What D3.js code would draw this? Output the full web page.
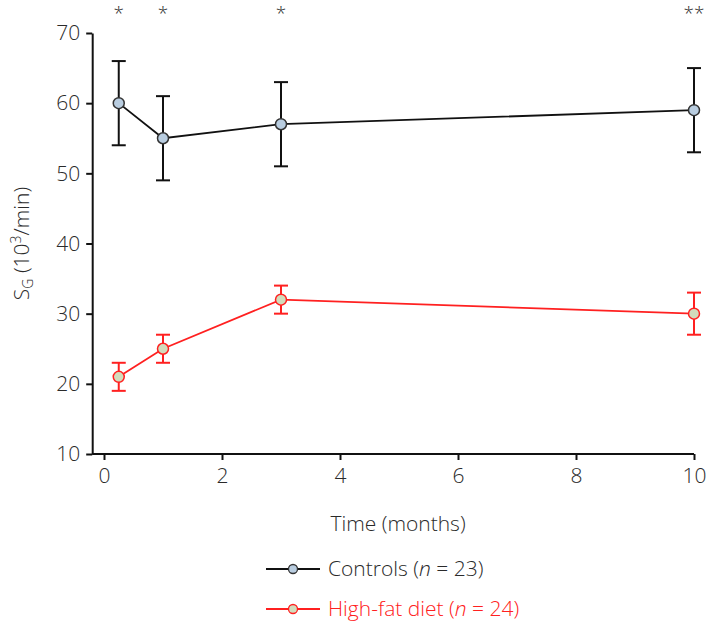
<!DOCTYPE html>
<html>
<head>
<meta charset="utf-8">
<script src="https://cdn.jsdelivr.net/npm/d3@7"></script>
<style>
    body { margin: 0; background: #fff; }
    svg { display: block; font-family: "Open Sans", "Noto Sans", sans-serif; font-weight: 300; }
</style>
</head>
<body>
<div class="content"></div>
<script>
(function (window) {
    'use strict';

    var months = [0.25, 1, 3, 10],
        controlMean = [60, 55, 57, 59],
        controlErr = [6, 6, 6, 6],
        fatMean = [21, 25, 32, 30],
        fatErr = [2, 2, 2, 3],
        stars = ["*", "*", "*", "**"],
        xTicks = [0, 2, 4, 6, 8, 10],
        yTicks = [10, 20, 30, 40, 50, 60, 70];

    var width = 709, height = 621,
        textColor = "#2a2a2a",
        fontSize = "21px",
        series = [
            {name: "Controls", n: 23, mean: controlMean, err: controlErr, line: "#111", fill: "#b9cde0", stroke: "#333", text: "#2a2a2a"},
            {name: "High-fat diet", n: 24, mean: fatMean, err: fatErr, line: "#ff2020", fill: "#d2dcbc", stroke: "#ff2020", text: "#ff2020"}
        ];

    var svg = d3.select(".content").append("svg")
        .attr("width", width)
        .attr("height", height);

    var x = d3.scaleLinear().domain([0, 10]).range([104, 694]),
        y = d3.scaleLinear().domain([10, 70]).range([454, 33]);

    // axes
    var xAxis = svg.append("g")
        .attr("transform", "translate(0," + y(10) + ")")
        .call(d3.axisBottom(x).tickValues(xTicks).tickSize(6).tickPadding(8).tickSizeOuter(0));
    xAxis.select(".domain").attr("d", "M" + x(-0.2) + ",0H" + x(10));

    var yAxis = svg.append("g")
        .attr("transform", "translate(" + x(-0.2) + ",0)")
        .call(d3.axisLeft(y).tickValues(yTicks).tickSize(6).tickPadding(6).tickSizeOuter(0));

    [xAxis, yAxis].forEach(function (ax) {
        ax.attr("font-family", null).attr("font-size", fontSize);
        ax.selectAll("path, line").attr("stroke", "#111").attr("stroke-width", 2);
        ax.selectAll("text").attr("fill", textColor);
    });

    // axis titles
    svg.append("text")
        .attr("x", 398)
        .attr("y", 531)
        .attr("text-anchor", "middle")
        .attr("font-size", fontSize)
        .attr("fill", textColor)
        .text("Time (months)");

    var yTitle = svg.append("text")
        .attr("transform", "translate(29," + y(40) + ") rotate(-90)")
        .attr("text-anchor", "middle")
        .attr("font-size", fontSize)
        .attr("fill", textColor);
    yTitle.append("tspan").text("S");
    yTitle.append("tspan").attr("font-size", "14px").attr("dy", "4").text("G");
    yTitle.append("tspan").attr("dy", "-4").text(" (10");
    yTitle.append("tspan").attr("font-size", "14px").attr("dy", "-8").text("3");
    yTitle.append("tspan").attr("dy", "8").text("/min)");

    // significance stars
    svg.selectAll("text.star").data(months).enter().append("text")
        .attr("class", "star")
        .attr("x", function (d) { return x(d); })
        .attr("y", 20)
        .attr("text-anchor", "middle")
        .attr("font-size", "19px")
        .attr("fill", textColor)
        .text(function (d, i) { return stars[i]; });

    var line = d3.line()
        .x(function (d) { return x(d.t); })
        .y(function (d) { return y(d.m); });

    series.forEach(function (s) {
        var pts = months.map(function (t, i) { return {t: t, m: s.mean[i], e: s.err[i]}; }),
            g = svg.append("g");

        g.append("path")
            .datum(pts)
            .attr("d", line)
            .attr("fill", "none")
            .attr("stroke", s.line)
            .attr("stroke-width", 1.8);

        var eb = g.selectAll("g.err").data(pts).enter().append("g")
            .attr("stroke", s.line)
            .attr("stroke-width", 2);
        eb.append("line")
            .attr("x1", function (d) { return x(d.t); })
            .attr("x2", function (d) { return x(d.t); })
            .attr("y1", function (d) { return y(d.m - d.e); })
            .attr("y2", function (d) { return y(d.m + d.e); });
        [1, -1].forEach(function (sign) {
            eb.append("line")
                .attr("x1", function (d) { return x(d.t) - 7; })
                .attr("x2", function (d) { return x(d.t) + 7; })
                .attr("y1", function (d) { return y(d.m + sign * d.e); })
                .attr("y2", function (d) { return y(d.m + sign * d.e); });
        });

        g.selectAll("circle").data(pts).enter().append("circle")
            .attr("cx", function (d) { return x(d.t); })
            .attr("cy", function (d) { return y(d.m); })
            .attr("r", 5.5)
            .attr("fill", s.fill)
            .attr("stroke", s.stroke)
            .attr("stroke-width", 1.5);
    });

    // legend
    var legend = svg.selectAll("g.legend").data(series).enter().append("g")
        .attr("class", "legend")
        .attr("transform", function (d, i) { return "translate(266," + (569 + i * 40) + ")"; });
    legend.append("line")
        .attr("x1", 0).attr("x2", 54)
        .attr("stroke", function (d) { return d.line; })
        .attr("stroke-width", 1.8);
    legend.append("circle")
        .attr("cx", 27).attr("r", 4.5)
        .attr("fill", function (d) { return d.fill; })
        .attr("stroke", function (d) { return d.stroke; })
        .attr("stroke-width", 1.3);
    var lt = legend.append("text")
        .attr("x", 62)
        .attr("y", 7)
        .attr("font-size", fontSize)
        .attr("fill", function (d) { return d.text; });
    lt.append("tspan").text(function (d) { return d.name + " ("; });
    lt.append("tspan").attr("font-style", "italic").text("n");
    lt.append("tspan").text(function (d) { return " = " + d.n + ")"; });
}(window));
</script>
</body>
</html>
